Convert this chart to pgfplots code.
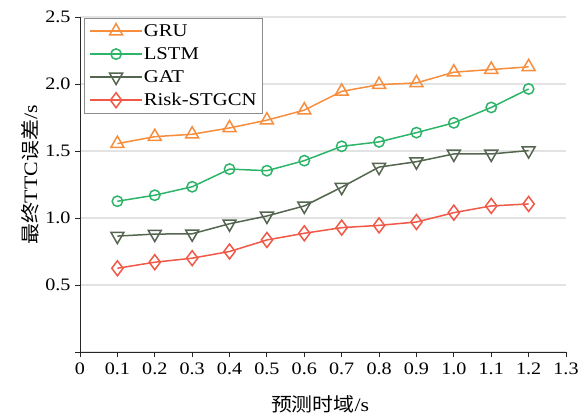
\documentclass[border=0pt]{standalone}
\usepackage{fontspec}
\setmainfont{Liberation Serif}[FakeStretch=1.15]
\newfontfamily\cjk{Noto Sans CJK SC}[FakeStretch=1.1]
\usepackage{pgfplots}
\pgfplotsset{compat=1.18}
\definecolor{cGRU}{RGB}{246,142,62}
\definecolor{cLSTM}{RGB}{45,180,105}
\definecolor{cGAT}{RGB}{85,102,80}
\definecolor{cRisk}{RGB}{240,88,72}
\begin{document}
\begin{tikzpicture}
\begin{axis}[
  name=ax,
  width=486pt, height=335pt, scale only axis,
  xmin=0, xmax=1.3, ymin=0, ymax=2.5,
  xtick={0,0.1,0.2,0.3,0.4,0.5,0.6,0.7,0.8,0.9,1.0,1.1,1.2,1.3},
  xticklabels={0,0.1,0.2,0.3,0.4,0.5,0.6,0.7,0.8,0.9,1.0,1.1,1.2,1.3},
  ytick={0,0.5,1,1.5,2,2.5},
  yticklabels={,0.5,1.0,1.5,2.0,2.5},
  axis x line*=bottom, axis y line*=left,
  ymajorgrids, grid style={gray!22, line width=1.2pt},
  tick align=outside, major tick length=5pt,
  tick style={black!85, line width=0.9pt},
  axis line style={black!85, line width=1pt},
  /pgf/number format/assume math mode=true,
  ticklabel style={font=\fontsize{17.5}{19}\selectfont},
  yticklabel style={xshift=-1pt},
  xticklabel style={yshift=-2pt},
  xlabel={{\cjk 预测时域}/s},
  ylabel={{\cjk 最终}TTC{\cjk 误差}/s},
  label style={font=\fontsize{19}{21}\selectfont},
  xlabel style={at={(axis description cs:0.494,-0.155)}, anchor=center},
  ylabel style={at={(axis description cs:-0.103,0.528)}, anchor=center},
  legend style={at={(0.008,0.997)}, anchor=north west, draw=gray!90, line width=0.9pt,
    font=\fontsize{18}{20}\selectfont, row sep=7.5pt, inner sep=5pt,
    nodes={inner sep=1pt}},
  legend cell align=left,
  legend image code/.code={\draw[mark repeat=2,mark phase=2] plot coordinates {(0pt,0pt) (26pt,0pt) (52pt,0pt)};},
]
\addplot[cGRU, line width=1.5pt, mark=triangle, mark size=7.5pt, mark options={solid, line width=1.5pt}] coordinates {
(0.1,1.555)(0.2,1.607)(0.3,1.625)(0.4,1.672)(0.5,1.73)(0.6,1.805)(0.7,1.945)(0.8,1.995)(0.9,2.008)(1.0,2.088)(1.1,2.108)(1.2,2.128)};
\addlegendentry{GRU}
\addplot[cLSTM, line width=1.5pt, mark=o, mark size=5.2pt, mark options={solid, line width=1.5pt}] coordinates {
(0.1,1.125)(0.2,1.17)(0.3,1.233)(0.4,1.365)(0.5,1.353)(0.6,1.428)(0.7,1.535)(0.8,1.568)(0.9,1.637)(1.0,1.71)(1.1,1.825)(1.2,1.963)};
\addlegendentry{LSTM}
\addplot[cGAT, line width=1.5pt, mark=triangle, mark size=7.5pt, mark options={solid, rotate=180, line width=1.5pt}] coordinates {
(0.1,0.865)(0.2,0.88)(0.3,0.882)(0.4,0.957)(0.5,1.015)(0.6,1.09)(0.7,1.23)(0.8,1.38)(0.9,1.42)(1.0,1.478)(1.1,1.478)(1.2,1.503)};
\addlegendentry{GAT}
\addplot[cRisk, line width=1.5pt, mark=diamond, mark size=7.5pt, mark options={solid, line width=1.5pt}] coordinates {
(0.1,0.625)(0.2,0.67)(0.3,0.70)(0.4,0.75)(0.5,0.836)(0.6,0.886)(0.7,0.928)(0.8,0.945)(0.9,0.97)(1.0,1.04)(1.1,1.09)(1.2,1.105)};
\addlegendentry{Risk-STGCN}
\end{axis}
\pgfresetboundingbox
\path ([shift={(-80pt,-65pt)}]ax.south west) rectangle ([shift={(17pt,17pt)}]ax.north east);
\end{tikzpicture}
\end{document}
